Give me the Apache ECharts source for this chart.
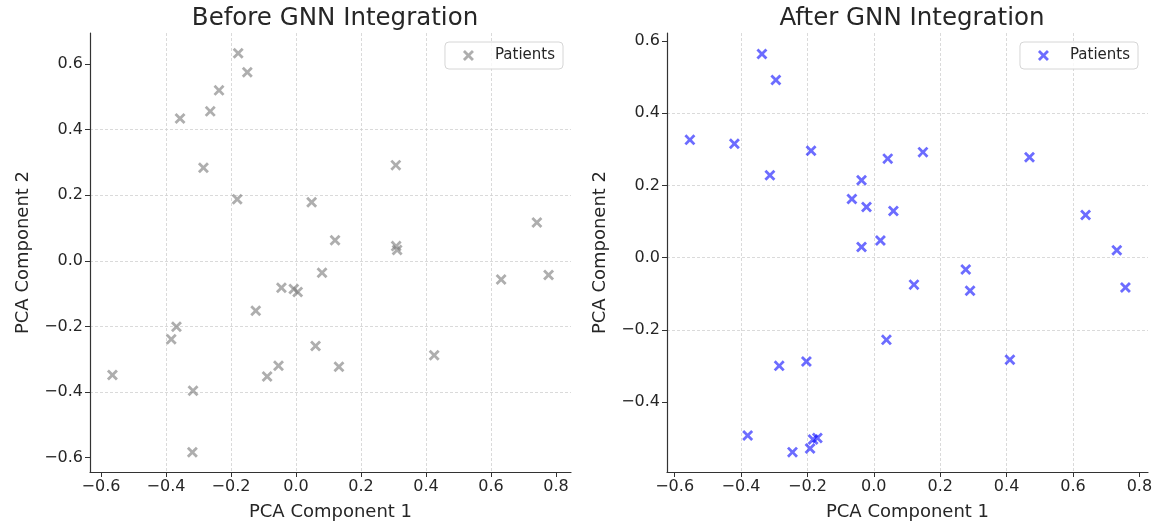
<!DOCTYPE html>
<html>
<head>
<meta charset="utf-8">
<script src="https://cdn.jsdelivr.net/npm/echarts@6/dist/echarts.min.js"></script>
<style>
  html, body { margin: 0; padding: 0; background: #fff; }
  #chart { width: 1159px; height: 524px; }
</style>
</head>
<body>
<div id="chart"></div>
<script>
// PCA coordinates
const beforePoints = [
  [-0.178, 0.633], [-0.150, 0.575], [-0.237, 0.520], [-0.264, 0.456],
  [-0.357, 0.434], [-0.285, 0.284], [-0.181, 0.188], [0.048, 0.179],
  [0.307, 0.292], [0.741, 0.117], [0.120, 0.063], [0.308, 0.045],
  [0.311, 0.033], [0.080, -0.036], [0.631, -0.057], [0.777, -0.043],
  [0.425, -0.288], [0.132, -0.323], [0.060, -0.260], [-0.045, -0.082],
  [-0.007, -0.086], [0.005, -0.095], [-0.124, -0.152], [-0.368, -0.201],
  [-0.384, -0.239], [-0.054, -0.320], [-0.089, -0.353], [-0.565, -0.348],
  [-0.317, -0.396], [-0.319, -0.584]
];
const afterPoints = [
  [-0.337, 0.564], [-0.295, 0.492], [-0.554, 0.326], [-0.420, 0.315],
  [-0.189, 0.296], [-0.313, 0.228], [0.042, 0.274], [-0.037, 0.214],
  [-0.066, 0.162], [-0.022, 0.140], [0.059, 0.129], [0.020, 0.047],
  [-0.037, 0.029], [0.148, 0.292], [0.469, 0.278], [0.638, 0.118],
  [0.732, 0.020], [0.758, -0.083], [0.277, -0.033], [0.290, -0.092],
  [0.121, -0.075], [0.410, -0.283], [0.038, -0.228], [-0.285, -0.300],
  [-0.203, -0.288], [-0.380, -0.493], [-0.245, -0.539], [-0.192, -0.529],
  [-0.183, -0.504], [-0.170, -0.500]
];
const xTicks = [-0.6, -0.4, -0.2, 0.0, 0.2, 0.4, 0.6, 0.8];
const yTicksBefore = [-0.6, -0.4, -0.2, 0.0, 0.2, 0.4, 0.6];
const yTicksAfter = [-0.4, -0.2, 0.0, 0.2, 0.4, 0.6];
const titles = ["Before GNN Integration", "After GNN Integration"];
const xName = "PCA Component 1", yName = "PCA Component 2";
const legendName = "Patients";

const font = "DejaVu Sans";
const textColor = "#262626";
const crossPath = "path://M0,1.8L1.8,0L5,3.2L8.2,0L10,1.8L6.8,5L10,8.2L8.2,10L5,6.8L1.8,10L0,8.2L3.2,5Z";

let myChart = echarts.init(document.getElementById("chart"));

function fmt(v) {
  return v.toFixed(1).replace("-", "\u2212");
}

function xAxis(idx, min, max) {
  return {
    type: "value", gridIndex: idx, min: min, max: max, splitNumber: 7,
    name: xName, nameLocation: "middle", nameGap: 31,
    nameTextStyle: { fontFamily: font, fontSize: 18, color: textColor },
    axisLine: { show: true, onZero: false, lineStyle: { color: "#333", width: 1.2 } },
    axisTick: { show: true, length: 5, customValues: xTicks, lineStyle: { color: "#333" } },
    axisLabel: { customValues: xTicks, formatter: fmt, fontFamily: font, fontSize: 16, color: textColor, margin: 7 },
    splitLine: { show: true, showMinLine: false, showMaxLine: false, lineStyle: { color: "#d0d0d0", type: [3, 2], width: 0.8 } }
  };
}

function yAxis(idx, min, max, ticks) {
  return {
    type: "value", gridIndex: idx, min: min, max: max, splitNumber: 7,
    name: yName, nameLocation: "middle", nameGap: 58, nameRotate: 90,
    nameTextStyle: { fontFamily: font, fontSize: 18, color: textColor },
    axisLine: { show: true, onZero: false, lineStyle: { color: "#333", width: 1.2 } },
    axisTick: { show: true, length: 5, customValues: ticks, lineStyle: { color: "#333" } },
    axisLabel: { customValues: ticks, formatter: fmt, fontFamily: font, fontSize: 16, color: textColor, margin: 7 },
    splitLine: { show: true, showMinLine: false, showMaxLine: false, lineStyle: { color: "#d0d0d0", type: [3, 2], width: 0.8 } }
  };
}

function legend(name, right) {
  return {
    data: [{ name: name, icon: crossPath }],
    top: 42, right: right,
    itemWidth: 11, itemHeight: 11, itemGap: 0,
    padding: [6, 8, 6, 18],
    borderColor: "#d6d6d6", borderWidth: 1, borderRadius: 4,
    backgroundColor: "rgba(255,255,255,0.8)",
    formatter: function () { return legendName; },
    textStyle: { fontFamily: font, fontSize: 15, color: textColor, padding: [0, 0, 0, 16] }
  };
}

let option = {
  animation: false,
  backgroundColor: "#fff",
  title: [
    { text: titles[0], left: 330, top: 1, textAlign: "center",
      textStyle: { fontFamily: font, fontSize: 24.5, fontWeight: "normal", color: textColor } },
    { text: titles[1], left: 907, top: 1, textAlign: "center",
      textStyle: { fontFamily: font, fontSize: 24.5, fontWeight: "normal", color: textColor } }
  ],
  legend: [legend("before", 1159 - 563), legend("after", 1159 - 1138)],
  grid: [
    { left: 90, top: 33, width: 481, height: 439, outerBoundsMode: "none", containLabel: false },
    { left: 667, top: 33, width: 481, height: 439, outerBoundsMode: "none", containLabel: false }
  ],
  xAxis: [xAxis(0, -0.634, 0.846), xAxis(1, -0.623, 0.826)],
  yAxis: [yAxis(0, -0.644, 0.695, yTicksBefore), yAxis(1, -0.594, 0.622, yTicksAfter)],
  series: [
    { name: "before", type: "scatter", xAxisIndex: 0, yAxisIndex: 0,
      symbol: crossPath, symbolSize: 11,
      itemStyle: { color: "rgba(120,120,120,0.75)" }, data: beforePoints },
    { name: "after", type: "scatter", xAxisIndex: 1, yAxisIndex: 1,
      symbol: crossPath, symbolSize: 11,
      itemStyle: { color: "rgba(0,0,255,0.72)" }, data: afterPoints }
  ]
};

myChart.setOption(option);
</script>
</body>
</html>
